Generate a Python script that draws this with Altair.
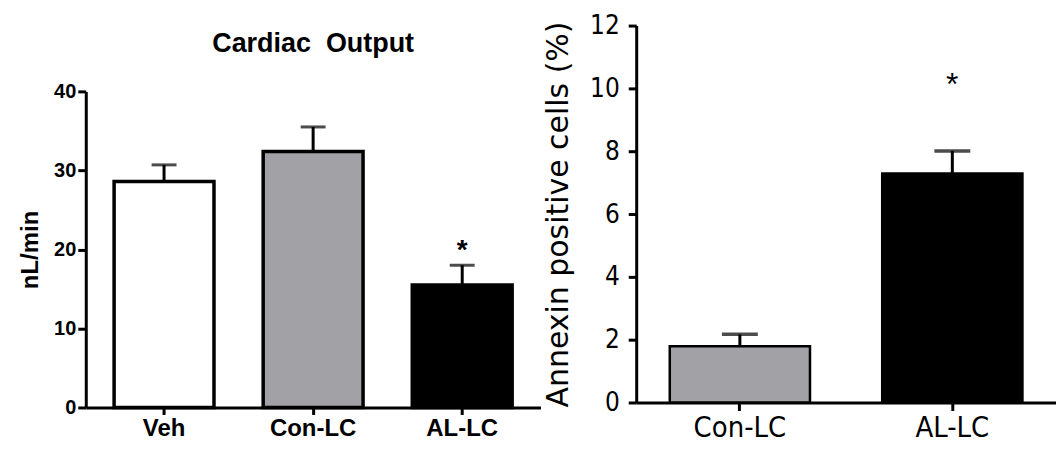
import altair as alt
import pandas as pd

# ---- Left panel: Cardiac Output ----
co_groups = ["Veh", "Con-LC", "AL-LC"]
co_means = [28.6, 32.4, 15.5]
co_upper = [30.7, 35.5, 18.0]
co_sig = ["", "", "*"]
co_fill = ["#ffffff", "#a2a2a6", "#000000"]
co_ticks = [0, 10, 20, 30, 40]

# ---- Right panel: Annexin positive cells ----
an_groups = ["Con-LC", "AL-LC"]
an_means = [1.79, 7.29]
an_upper = [2.17, 8.01]
an_sig = ["", "*"]
an_fill = ["#a2a2a6", "#000000"]
an_ticks = [0, 2, 4, 6, 8, 10, 12]

BOLD = "Liberation Sans"
NARROW = "Liberation Sans Narrow, Arial Narrow, DejaVu Sans Condensed, sans-serif"

co_df = pd.DataFrame({"group": co_groups, "mean": co_means, "upper": co_upper,
                      "sig": co_sig, "fill": co_fill})
an_df = pd.DataFrame({"group": an_groups, "mean": an_means, "upper": an_upper,
                      "sig": an_sig, "fill": an_fill})

# ---------------- left ----------------
LH = 383  # plot height of the left panel (same top as the right panel)
xL_axis = alt.Axis(labelAngle=0, labelFont=BOLD, labelFontWeight="bold", labelFontSize=24,
                   labelColor="black", labelPadding=2, tickSize=7, tickWidth=3,
                   tickColor="black", domainWidth=3, domainColor="black", title=None)
xL = alt.X("group:N", sort=co_groups, title=None,
           scale=alt.Scale(paddingInner=0.33, paddingOuter=0.19), axis=xL_axis)
yL = alt.Y("mean:Q", title="nL/min",
           scale=alt.Scale(domain=[0, 40], nice=False, range=[LH, 66]),
           axis=alt.Axis(values=co_ticks, labelFont=BOLD, labelFontWeight="bold", labelFontSize=20,
                         labelColor="black", labelPadding=2, tickSize=8, tickWidth=3,
                         tickColor="black", domainWidth=3, domainColor="black",
                         titleFont=BOLD, titleFontWeight="bold", titleFontSize=24,
                         titleColor="black", titlePadding=11))

baseL = alt.Chart(co_df)
errL = baseL.mark_rule(color="black", strokeWidth=3).encode(x=xL, y=yL, y2="upper:Q")
barsL = baseL.mark_bar(stroke="black", strokeWidth=3.5).encode(
    x=xL, y=yL, fill=alt.Fill("fill:N", scale=None))
capL = baseL.mark_tick(color="black", thickness=3, size=25).encode(x=xL, y=alt.Y("upper:Q"))
starL = baseL.mark_text(font=BOLD, fontWeight="bold", fontSize=28, baseline="alphabetic",
                        dy=-6, color="black").encode(x=xL, y=alt.Y("upper:Q"), text="sig:N")

left = alt.layer(errL, barsL, capL, starL).properties(
    width=456, height=LH,
    title=alt.Title("Cardiac\u00a0 Output", font=BOLD, fontWeight="bold", fontSize=27,
                    color="black", offset=-33, anchor="middle"))

# ---------------- right ----------------
xR_axis = alt.Axis(labelAngle=0, labelFont=NARROW, labelFontSize=29, labelColor="black",
                   labelPadding=3, tickSize=8, tickWidth=3, tickColor="black",
                   domainWidth=3, domainColor="black", title=None)
xR = alt.X("group:N", sort=an_groups, title=None,
           scale=alt.Scale(paddingInner=0.34, paddingOuter=0.158, align=0.5), axis=xR_axis)
yR = alt.Y("mean:Q", title="Annexin positive cells (%)",
           scale=alt.Scale(domain=[0, 12], nice=False),
           axis=alt.Axis(values=an_ticks, labelFont=NARROW, labelFontSize=26, labelColor="black",
                         labelPadding=9, tickSize=8, tickWidth=3, tickColor="black",
                         domainWidth=3, domainColor="black",
                         titleFont="DejaVu Sans", titleFontWeight="normal", titleFontSize=30,
                         titleColor="black", titlePadding=16))

baseR = alt.Chart(an_df)
errR = baseR.mark_rule(color="black", strokeWidth=3).encode(x=xR, y=yR, y2="upper:Q")
barsR = baseR.mark_bar(stroke="black", strokeWidth=2.5).encode(
    x=xR, y=yR, fill=alt.Fill("fill:N", scale=None))
capR = baseR.mark_tick(color="black", thickness=3.5, size=36).encode(x=xR, y=alt.Y("upper:Q"))
starR = baseR.mark_text(font="Liberation Sans", fontSize=32, baseline="alphabetic",
                        dy=-56, color="black").encode(x=xR, y=alt.Y("upper:Q"), text="sig:N")

right = alt.layer(errR, barsR, capR, starR).properties(width=421, height=378)

chart = alt.hconcat(left, right, spacing=3).properties(
    padding={"left": 10, "top": 4, "right": 0, "bottom": 0}
).configure_view(stroke=None).configure_axis(grid=False)

chart.save("out.html", embed_options={"renderer": "svg", "actions": False})
